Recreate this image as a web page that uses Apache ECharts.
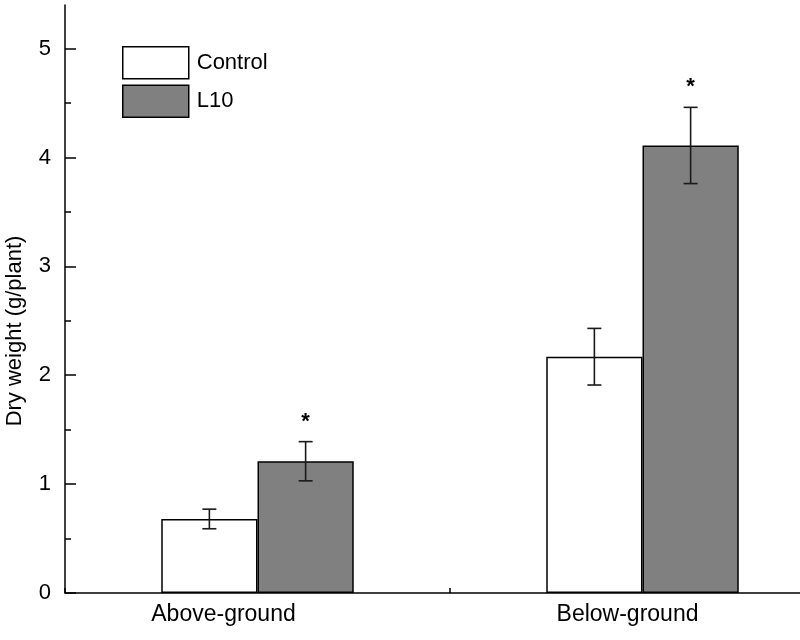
<!DOCTYPE html>
<html lang="en">
<head>
    <meta charset="utf-8"/>
    <title>Dry weight</title>
    <script src="https://cdn.jsdelivr.net/npm/echarts@6/dist/echarts.min.js" type="text/javascript"></script>
    <style>
        html, body { margin: 0; padding: 0; background: #fff; }
        #chart { width: 800px; height: 640px; }
    </style>
</head>
<body>
<div id="chart"></div>
<script>
    // data
    var categories = ['Above-ground', 'Below-ground'];
    var controlMean = [0.68, 2.17];
    var controlErr = [0.09, 0.26];
    var l10Mean = [1.21, 4.11];
    var l10Err = [0.18, 0.35];
    var l10Sig = ['*', '*'];
    var yTicks = [0, 1, 2, 3, 4, 5];
    var yMinorTicks = [0.5, 1.5, 2.5, 3.5, 4.5];

    var font = "'Liberation Sans', Arial, sans-serif";

    // error bar data: [category index, mean, error]
    function errData(mean, err) {
        var out = [];
        for (var i = 0; i < mean.length; i++) {
            out.push([i, mean[i], err[i]]);
        }
        return out;
    }

    // offset is the bar centre as a fraction of the category band
    function errRender(offset) {
        return function (params, api) {
            var idx = api.value(0);
            var band = api.size([1, 0])[0];
            var x = api.coord([idx, 0])[0] + offset * band;
            var top = api.coord([idx, api.value(1) + api.value(2)])[1];
            var bot = api.coord([idx, api.value(1) - api.value(2)])[1];
            var cap = 7;
            var st = {stroke: '#1a1a1a', lineWidth: 1.6};
            return {
                type: 'group',
                children: [
                    {type: 'line', shape: {x1: x, y1: top, x2: x, y2: bot}, style: st},
                    {type: 'line', shape: {x1: x - cap, y1: top, x2: x + cap, y2: top}, style: st},
                    {type: 'line', shape: {x1: x - cap, y1: bot, x2: x + cap, y2: bot}, style: st}
                ]
            };
        };
    }

    var sigData = [];
    for (var i = 0; i < l10Mean.length; i++) {
        sigData.push([i, l10Mean[i] + l10Err[i], l10Sig[i]]);
    }

    var myChart = echarts.init(document.getElementById('chart'));
    var option = {
        animation: false,
        backgroundColor: '#fff',
        textStyle: {fontFamily: font, color: '#000'},
        // the plot runs past the right edge of the picture
        grid: {left: 65, top: 5, width: 770, height: 588, outerBoundsMode: 'none', containLabel: false},
        legend: {
            data: ['Control', 'L10'],
            orient: 'vertical',
            left: 122,
            top: 46,
            padding: 0,
            icon: 'rect',
            itemWidth: 66,
            itemHeight: 32,
            itemGap: 5,
            itemStyle: {borderColor: '#000', borderWidth: 1.5},
            textStyle: {fontFamily: font, fontSize: 22, color: '#000', padding: [0, 0, 0, 3]}
        },
        xAxis: {
            type: 'category',
            data: categories,
            axisLine: {lineStyle: {color: '#000', width: 1.5}},
            axisTick: {show: true, inside: true, length: 5, lineStyle: {color: '#000', width: 1.5}},
            axisLabel: {
                margin: 10,
                formatter: function (v, i) {
                    return i === 0 ? '{a|' + v + '}' : '{b|' + v + '}';
                },
                rich: {
                    a: {fontFamily: font, fontSize: 23, color: '#000', padding: [0, 68, 0, 0]},
                    b: {fontFamily: font, fontSize: 23, color: '#000', padding: [0, 30, 0, 0]}
                }
            }
        },
        yAxis: [
            {
                type: 'value',
                min: 0,
                max: 5.4,
                interval: 1,
                position: 'left',
                splitLine: {show: false},
                axisLine: {show: true, lineStyle: {color: '#000', width: 1.5}},
                axisTick: {show: true, inside: true, length: 11, customValues: yTicks,
                    lineStyle: {color: '#000', width: 1.5}},
                axisLabel: {customValues: yTicks, fontFamily: font, fontSize: 22, color: '#000', margin: 14}
            },
            {
                type: 'value',
                min: 0,
                max: 5.4,
                interval: 1,
                position: 'left',
                offset: 0,
                splitLine: {show: false},
                axisLine: {show: false},
                axisLabel: {show: false},
                axisTick: {show: true, inside: true, length: 6, customValues: yMinorTicks,
                    lineStyle: {color: '#000', width: 1.5}}
            }
        ],
        graphic: [{
            type: 'text',
            x: 15,
            y: 331,
            rotation: Math.PI / 2,
            style: {
                text: 'Dry weight (g/plant)',
                font: '22px ' + font,
                fill: '#000',
                textAlign: 'center',
                textVerticalAlign: 'middle'
            }
        }],
        series: [
            {
                name: 'Control',
                type: 'bar',
                data: controlMean,
                barWidth: '25%',
                barGap: '0%',
                itemStyle: {color: '#ffffff', borderColor: '#000', borderWidth: 1.5}
            },
            {
                name: 'L10',
                type: 'bar',
                data: l10Mean,
                barWidth: '25%',
                barGap: '0%',
                itemStyle: {color: '#808080', borderColor: '#000', borderWidth: 1.5}
            },
            {
                type: 'custom',
                z: 5,
                renderItem: errRender(-0.125),
                data: errData(controlMean, controlErr)
            },
            {
                type: 'custom',
                z: 5,
                renderItem: errRender(0.125),
                data: errData(l10Mean, l10Err)
            },
            {
                type: 'custom',
                z: 5,
                renderItem: function (params, api) {
                    var idx = api.value(0);
                    var band = api.size([1, 0])[0];
                    var x = api.coord([idx, 0])[0] + 0.125 * band;
                    var y = api.coord([idx, api.value(1)])[1];
                    return {
                        type: 'text',
                        style: {
                            text: sigData[params.dataIndex][2],
                            x: x,
                            y: y - 9,
                            textAlign: 'center',
                            textVerticalAlign: 'bottom',
                            font: 'bold 22px ' + font,
                            fill: '#000'
                        }
                    };
                },
                data: sigData
            }
        ]
    };
    myChart.setOption(option);
</script>
</body>
</html>
